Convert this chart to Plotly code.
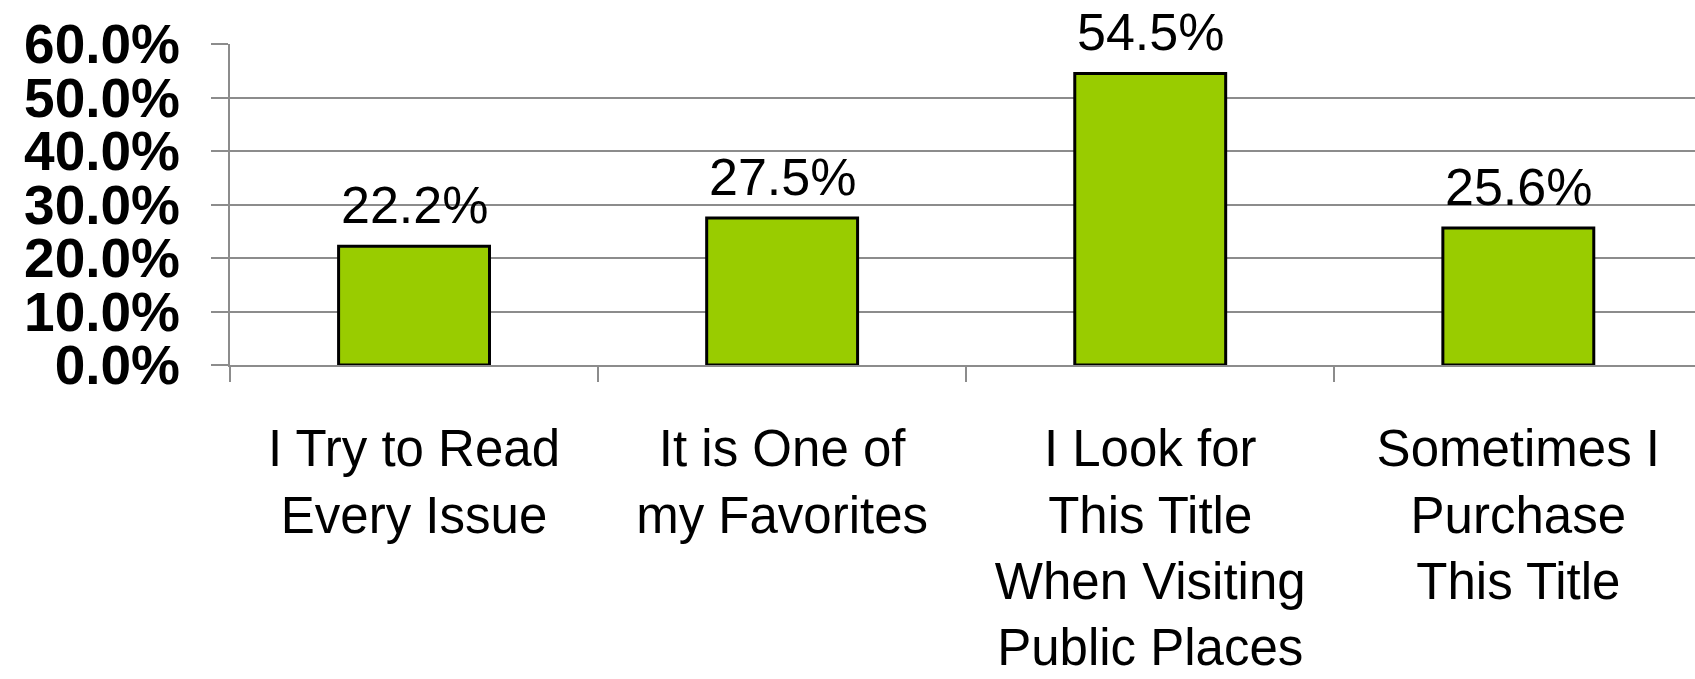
import plotly.graph_objects as go

categories = [
    "I Try to Read<br>Every Issue",
    "It is One of<br>my Favorites",
    "I Look for<br>This Title<br>When Visiting<br>Public Places",
    "Sometimes I<br>Purchase<br>This Title",
]
values = [22.2, 27.5, 54.5, 25.6]
y_ticks = [0, 10, 20, 30, 40, 50, 60]

FONT = "Liberation Sans, Arial, sans-serif"
GRID = "#8c8c8c"

fig = go.Figure()
fig.add_trace(go.Bar(
    x=categories,
    y=values,
    width=0.41,
    marker=dict(color="#99CC00", line=dict(color="#000000", width=3)),
    cliponaxis=False,
    hoverinfo="skip",
))

for c, v in zip(categories, values):
    fig.add_annotation(
        x=c, y=v, text=f"{v:.1f}%", showarrow=False,
        yanchor="bottom", yshift=10,
        font=dict(family=FONT, size=52, color="#000000"),
    )

fig.update_layout(
    width=1695, height=679,
    margin=dict(l=230, r=0, t=44, b=314, autoexpand=False),
    plot_bgcolor="white", paper_bgcolor="white",
    showlegend=False,
    bargap=0.59,
)
fig.update_xaxes(
    type="category",
    range=[-0.5, 3.48],
    tickson="boundaries",
    ticks="outside", ticklen=15, tickwidth=2, tickcolor=GRID,
    showline=True, linecolor=GRID, linewidth=2,
    showgrid=False,
    automargin=False,
    tickfont=dict(family=FONT, size=51, color="#000000"),
    ticklabelstandoff=38,
)
fig.update_yaxes(
    range=[0, 60],
    tickvals=y_ticks,
    ticktext=[f"{t:.1f}%" for t in y_ticks],
    ticks="outside", ticklen=17, tickwidth=2, tickcolor=GRID,
    showline=True, linecolor=GRID, linewidth=2,
    showgrid=True, gridcolor=GRID, gridwidth=2,
    zeroline=False,
    automargin=False,
    tickfont=dict(family=FONT, size=55, color="#000000", weight="bold"),
    ticklabelstandoff=20,
)

fig.write_html("out.html")
